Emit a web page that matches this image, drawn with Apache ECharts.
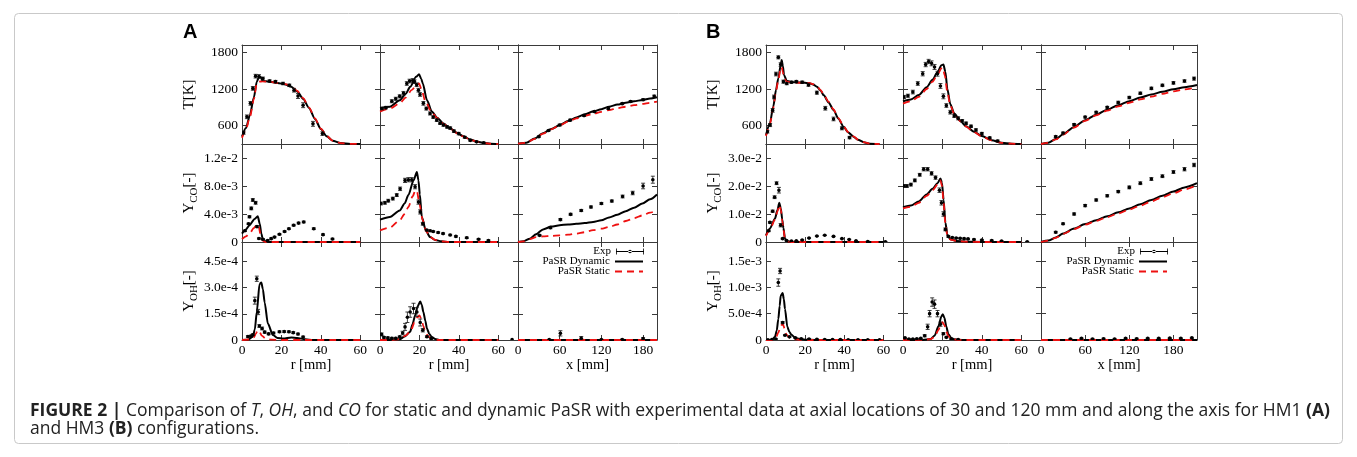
<!DOCTYPE html>
<html><head><meta charset="utf-8">
<script src="https://cdn.jsdelivr.net/npm/echarts@6/dist/echarts.min.js"></script>
<style>html,body{margin:0;padding:0;background:#fff}#c{width:1357px;height:457px}</style>
</head><body><div id="c"></div>
<script>
// ---------------- DATA ----------------
// x in mm, value ; exp points: [x, value, error]
// Panel A (HM1) — Temperature [K]
const A_T_r30_dyn = [[0,420],[2,560],[4,770],[6,1060],[7.5,1320],[8.5,1385],[9.5,1395],[10.5,1330],[14,1320],[18,1300],[22,1275],[25,1235],[28,1160],[31,1040],[34,890],[37,710],[40,545],[43,425],[46,355],[50,315],[55,302],[60,300]];
const A_T_r30_sta = [[0,400],[2,540],[4,740],[6,1030],[7.5,1290],[8.5,1320],[10.5,1325],[14,1318],[18,1300],[22,1280],[25,1245],[28,1170],[31,1050],[34,900],[37,720],[40,550],[43,430],[46,355],[50,315],[55,302],[60,300]];
const A_T_r30_exp = [[0.8,485,25],[2.5,745,30],[4.3,965,30],[5.5,1210,30],[6.9,1410,30],[8.6,1405,30],[10.6,1370,25],[14,1330,20],[17,1320,20],[20.8,1290,20],[24,1260,20],[26.4,1180,30],[28.4,1085,40],[31,935,40],[36,630,40],[40.8,470,30]];
const A_T_r120_dyn = [[0,890],[5,910],[10,1015],[13,1120],[15.3,1235],[18.3,1400],[19.8,1440],[21,1360],[21.7,1290],[23.8,1020],[26.3,830],[29,730],[32,640],[35.5,560],[39,485],[42,430],[45.8,375],[49,340],[52.6,318],[56,305],[60,300]];
const A_T_r120_sta = [[0,830],[5,880],[10,965],[13,1060],[16,1180],[18.5,1260],[19.8,1290],[21,1200],[23,1000],[26,830],[29,725],[32,635],[35.5,555],[39,480],[42,425],[45.8,372],[49,338],[52.6,316],[56,304],[60,300]];
const A_T_r120_exp = [[1,880,20],[3,895,20],[6,1000,25],[8,1040,25],[10,1080,25],[11.9,1130,30],[13.6,1290,30],[15,1330,30],[16.6,1340,30],[17.5,1320,30],[18.6,1270,30],[19.5,1180,30],[20.3,1110,30],[22,965,30],[23.5,880,25],[25.4,800,25],[27,740,20],[28.8,690,20],[30.5,640,20],[32.2,610,20],[34,580,20],[35.6,560,20],[37.5,510,20],[39.9,470,20],[43,410,15],[45.8,360,15],[49,335,10],[52.6,320,10]];
const A_T_axis_dyn = [[0,305],[12,320],[24,390],[36,475],[48,545],[60,610],[72,675],[84,735],[96,785],[108,830],[120,870],[131,910],[143,945],[155,975],[167,1000],[179,1020],[190,1045],[200,1065]];
const A_T_axis_sta = [[0,305],[12,320],[24,385],[36,470],[48,540],[60,605],[72,665],[84,720],[96,760],[108,795],[120,825],[131,855],[143,885],[155,910],[167,935],[179,955],[190,975],[200,995]];
const A_T_axis_exp = [[30,420,10],[44,520,10],[60,610,15],[75,690,15],[95,765,15],[110,830,15],[130,880,15],[150,960,15],[162,995,15],[180,1025,15],[196,1080,20]];
// Panel A — Y_CO
const A_CO_r30_dyn = [[0,1.2e-3],[2,1.8e-3],[3.8,2.4e-3],[6.4,3.3e-3],[8,3.67e-3],[9,2.6e-3],[9.8,1.2e-3],[10.6,3.4e-4],[12,8e-5],[14,0],[20,0],[30,0],[40,0],[50,0],[60,0]];
const A_CO_r30_sta = [[0,4e-4],[2,8e-4],[4,1.3e-3],[6,2e-3],[7.5,2.5e-3],[8.5,2.2e-3],[9.5,9e-4],[10.5,2e-4],[12,0],[20,0],[30,0],[40,0],[50,0],[60,0]];
const A_CO_r30_exp = [[1.5,1.6e-3,1e-4],[3.3,2.6e-3,1e-4],[3.8,3.6e-3,1.5e-4],[4.7,4.8e-3,2e-4],[5.5,6.0e-3,2e-4],[6.9,5.6e-3,2e-4],[7.6,2.2e-3,1.5e-4],[8.6,5e-4,1e-4],[10.6,4e-4,1e-4],[13,2e-4,1e-4],[14.8,4.8e-4,1e-4],[16.5,7e-4,1e-4],[19,1.1e-3,1e-4],[21.6,1.5e-3,1e-4],[23.8,1.9e-3,1e-4],[26.2,2.4e-3,1.2e-4],[28.7,2.7e-3,1.2e-4],[31.3,2.86e-3,1.2e-4],[36.4,1.9e-3,1.2e-4],[41.1,1.05e-3,1e-4],[45.9,4.3e-4,1e-4]];
const A_CO_r120_dyn = [[0,3.2e-3],[5,3.57e-3],[10,4.5e-3],[12.5,5.5e-3],[14.4,6.7e-3],[17,8.8e-3],[18.7,1.0e-2],[19.5,8.8e-3],[20.2,6.8e-3],[21.2,3.6e-3],[23.2,1.67e-3],[25.4,7e-4],[28,3e-4],[31,1e-4],[35,0],[45,0],[60,0]];
const A_CO_r120_sta = [[0,1.67e-3],[5,2.05e-3],[10,3.1e-3],[12.5,4e-3],[14.4,5e-3],[16.5,6.5e-3],[18,7.4e-3],[18.8,7.2e-3],[20,5.4e-3],[21.7,3.1e-3],[23.5,1.5e-3],[25.5,7e-4],[28,3e-4],[31,1e-4],[35,0],[45,0],[60,0]];
const A_CO_r120_exp = [[0.5,5.5e-3,2e-4],[2.5,5.6e-3,2e-4],[4.2,5.9e-3,2e-4],[6.5,6.2e-3,2e-4],[8.5,6.7e-3,2e-4],[10.2,7.6e-3,2.5e-4],[12.7,8.8e-3,3e-4],[14.4,8.9e-3,3e-4],[16.1,8.9e-3,3e-4],[17.8,7.9e-3,3e-4],[19.5,5.7e-3,3e-4],[20.4,4.3e-3,3e-4],[21.7,2.6e-3,2e-4],[23.7,1.7e-3,1e-4],[25.4,1.6e-3,1e-4],[27,1.5e-3,1e-4],[29.5,1.35e-3,1e-4],[32,1.2e-3,1e-4],[35.6,1e-3,1e-4],[38.5,8e-4,1e-4],[44,6e-4,1e-4],[50,4e-4,1e-4],[55,2e-4,1e-4]];
const A_CO_axis_dyn = [[0,0],[8,1e-4],[17,4.8e-4],[26,1.1e-3],[36,1.8e-3],[48,2.2e-3],[60,2.4e-3],[72,2.5e-3],[84,2.6e-3],[96,2.7e-3],[108,2.86e-3],[120,3.1e-3],[131,3.5e-3],[143,3.9e-3],[155,4.4e-3],[167,4.9e-3],[179,5.5e-3],[190,6.1e-3],[200,6.8e-3]];
const A_CO_axis_sta = [[0,0],[8,1e-4],[17,4e-4],[26,7e-4],[36,8e-4],[48,8.8e-4],[60,9.5e-4],[72,1.05e-3],[84,1.2e-3],[96,1.4e-3],[108,1.7e-3],[120,1.9e-3],[131,2.15e-3],[143,2.5e-3],[155,3e-3],[167,3.4e-3],[179,3.8e-3],[190,4.2e-3],[200,4.5e-3]];
const A_CO_axis_exp = [[31,9.5e-4,1e-4],[46.7,2.05e-3,1.5e-4],[61,3.2e-3,1.5e-4],[75.7,3.95e-3,1.5e-4],[91,4.5e-3,1.5e-4],[105,5e-3,1.5e-4],[120,5.5e-3,1.5e-4],[135,5.85e-3,1.5e-4],[150.5,6.5e-3,2e-4],[165,7e-3,2.5e-4],[180,8e-3,4e-4],[194,8.9e-3,5e-4]];
// Panel A — Y_OH
const A_OH_r30_dyn = [[0,0],[3,2e-6],[5.5,1.9e-5],[6.5,6e-5],[7.5,1.6e-4],[8.9,3.2e-4],[9.8,3.28e-4],[10.6,2.9e-4],[11.5,2.15e-4],[13.1,9.4e-5],[15.7,2.8e-5],[18,1.2e-5],[21,8e-6],[25,1.5e-5],[28,1.2e-5],[32,4e-6],[36,0],[45,0],[60,0]];
const A_OH_r30_sta = [[0,0],[4,3e-6],[6,1.5e-5],[7,3.5e-5],[8,5.6e-5],[9,4.5e-5],[10,2.5e-5],[12,8e-6],[15,2e-6],[20,0],[30,0],[45,0],[60,0]];
const A_OH_r30_exp = [[3,2e-5,5e-6],[4.5,2.2e-5,5e-6],[5.5,3e-5,5e-6],[6.5,2.25e-4,2e-5],[7.5,3.5e-4,1.5e-5],[8.2,1.6e-4,1.5e-5],[8.8,8e-5,8e-6],[10.2,6.6e-5,8e-6],[11.5,4.5e-5,6e-6],[13.5,3.5e-5,5e-6],[16,4e-5,5e-6],[19,4.7e-5,5e-6],[21.4,4.8e-5,5e-6],[23.8,4.7e-5,5e-6],[26,4.2e-5,5e-6],[28.4,3.4e-5,5e-6],[31,1.7e-5,5e-6]];
const A_OH_r120_dyn = [[0,0],[5,0],[10,5e-6],[12.5,2e-5],[15.3,4.7e-5],[16.5,9e-5],[17.8,1.4e-4],[19,1.9e-4],[20.4,2.2e-4],[21.2,2e-4],[22,1.6e-4],[23,1.1e-4],[23.8,6.6e-5],[25,3.5e-5],[26.3,1.7e-5],[28,6e-6],[30,0],[45,0],[60,0]];
const A_OH_r120_sta = [[0,0],[5,0],[10,5e-6],[13,2.5e-5],[15.5,5e-5],[17.5,1e-4],[19,1.3e-4],[20,1.4e-4],[21,1.2e-4],[22,8e-5],[23,4.6e-5],[24.5,2e-5],[26,8e-6],[28,2e-6],[30,0],[45,0],[60,0]];
const A_OH_r120_exp = [[0.8,3.2e-5,8e-6],[2,1.5e-5,5e-6],[4,1.2e-5,5e-6],[6,1e-5,5e-6],[8,1e-5,5e-6],[10,1.8e-5,5e-6],[11.5,4e-5,1e-5],[12.7,7.5e-5,2e-5],[13.9,1.3e-4,3e-5],[15.3,1.6e-4,3e-5],[17,1.8e-4,3e-5],[18.7,1.6e-4,2.5e-5],[20.4,1e-4,2e-5],[21.7,5.6e-5,1e-5],[23.8,1.9e-5,5e-6],[26,8e-6,4e-6],[67,3e-6,0]];
const A_OH_axis_dyn = [[0,0],[50,0],[100,0],[150,0],[200,0]];
const A_OH_axis_sta = [[0,0],[50,0],[100,0],[150,0],[200,0]];
const A_OH_axis_exp = [[45,2e-6,2e-6],[61,3.8e-5,1.5e-5],[91,1e-5,1e-5],[120,2e-6,2e-6],[150,3e-6,2e-6],[180,8e-6,5e-6]];

// Panel B (HM3) — Temperature [K]
const B_T_r30_dyn = [[0,447],[2,640],[3.7,910],[5.1,1183],[6.3,1374],[7.5,1592],[8,1673],[8.6,1580],[9.2,1428],[10.6,1335],[13,1315],[15.5,1310],[19,1305],[22.3,1295],[24,1275],[26,1237],[28,1170],[29.4,1100],[32,980],[34.5,856],[37,715],[39.6,583],[42,490],[44.7,420],[47,370],[49.9,330],[53,305],[58,300]];
const B_T_r30_sta = [[0,430],[2,620],[3.7,890],[5.1,1160],[6.3,1350],[7.5,1540],[8,1560],[8.6,1480],[9.2,1380],[10.6,1320],[13,1310],[15.5,1305],[19,1300],[22.3,1295],[24,1280],[26,1245],[28,1180],[29.4,1110],[32,990],[34.5,865],[37,725],[39.6,590],[42,495],[44.7,425],[47,372],[49.9,330],[53,305],[58,300]];
const B_T_r30_exp = [[0.7,500,20],[2.1,610,25],[3.4,850,30],[4.1,1070,30],[5.1,1445,30],[6.3,1718,25],[7.5,1600,30],[8.9,1320,25],[10.6,1290,20],[13,1310,20],[15.5,1320,20],[18.5,1310,20],[21.7,1265,20],[26,1140,25],[30.3,885,30],[34.5,710,30],[38.8,557,25],[42.7,405,20]];
const B_T_r120_dyn = [[0,1000],[4,1030],[8,1100],[12,1230],[15,1350],[17.5,1480],[19.5,1590],[20.5,1600],[21.5,1480],[22.5,1200],[24,950],[26,800],[29,680],[32,590],[36,500],[40,430],[45,360],[50,320],[55,305],[60,300]];
const B_T_r120_sta = [[0,960],[4,1000],[8,1070],[12,1200],[15,1320],[17.5,1440],[19.5,1540],[20.2,1550],[21.2,1420],[22.5,1150],[24,930],[26,790],[29,675],[32,585],[36,495],[40,425],[45,358],[50,320],[55,305],[60,300]];
const B_T_r120_exp = [[0.5,1070,25],[2.5,1090,25],[5,1150,30],[7.5,1290,30],[10,1450,35],[11.5,1600,35],[13,1650,35],[14.5,1620,40],[16,1560,40],[17.5,1450,40],[19,1250,40],[20.5,1080,40],[22,930,30],[24,820,30],[26,760,25],[28,720,25],[30,680,20],[32,640,20],[34.5,590,20],[37,530,20],[40,470,20],[44,400,15],[48,350,15]];
const B_T_axis_dyn = [[0,300],[10,320],[20,380],[30,460],[45,580],[60,690],[75,780],[90,860],[105,935],[120,1000],[135,1060],[150,1110],[165,1155],[180,1195],[195,1230],[212,1265]];
const B_T_axis_sta = [[0,300],[10,320],[20,375],[30,455],[45,570],[60,680],[75,770],[90,845],[105,915],[120,975],[135,1030],[150,1075],[165,1120],[180,1160],[195,1195],[212,1225]];
const B_T_axis_exp = [[20,420,15],[30,480,15],[45,620,15],[60,740,15],[75,820,15],[90,900,15],[105,980,20],[120,1060,20],[135,1130,20],[150,1210,20],[165,1260,20],[180,1300,20],[195,1330,20],[208,1370,25]];
// Panel B — Y_CO
const B_CO_r30_dyn = [[0,2.4e-3],[2,4.8e-3],[4.6,8.4e-3],[5.8,1.13e-2],[6.8,1.4e-2],[7.6,1.2e-2],[8.3,8e-3],[8.9,5e-3],[9.7,1.2e-3],[11,2e-4],[13,0],[20,0],[30,0],[40,0],[50,0],[60,0]];
const B_CO_r30_sta = [[0,2.2e-3],[2,4.5e-3],[4.6,8e-3],[5.8,1.08e-2],[6.8,1.32e-2],[7.6,1.15e-2],[8.3,7.5e-3],[8.9,4.5e-3],[9.7,1e-3],[11,2e-4],[13,0],[20,0],[30,0],[40,0],[50,0],[60,0]];
const B_CO_r30_exp = [[1.4,4e-3,3e-4],[2,7e-3,3e-4],[3.4,1.1e-2,4e-4],[4.4,1.6e-2,5e-4],[5.4,2.1e-2,5e-4],[6.6,1.85e-2,1e-3],[7.5,6e-3,6e-4],[8.5,1.2e-3,2e-4],[10.5,5e-4,1e-4],[13,3e-4,1e-4],[15.5,4e-4,1e-4],[18.5,7e-4,1e-4],[22,1.4e-3,1e-4],[26,2.1e-3,1e-4],[30,2.4e-3,1e-4],[34.5,2e-3,1e-4],[38.8,1.2e-3,1e-4],[42.5,9e-4,1e-4],[46,4e-4,1e-4],[52,2e-4,1e-4],[61,1e-4,1e-4]];
const B_CO_r120_dyn = [[0,1.24e-2],[4,1.3e-2],[8,1.45e-2],[12,1.7e-2],[15,1.9e-2],[17.5,2.1e-2],[19,2.27e-2],[19.8,2.1e-2],[20.6,1.5e-2],[21.5,7e-3],[22.5,2.5e-3],[24,1e-3],[27,4e-4],[32,1e-4],[40,0],[50,0],[60,0]];
const B_CO_r120_sta = [[0,1.2e-2],[4,1.26e-2],[8,1.4e-2],[12,1.65e-2],[15,1.85e-2],[17.5,2.05e-2],[19,2.2e-2],[19.8,2e-2],[20.6,1.4e-2],[21.5,6.5e-3],[22.5,2.3e-3],[24,9e-4],[27,4e-4],[32,1e-4],[40,0],[50,0],[60,0]];
const B_CO_r120_exp = [[0.5,2e-2,5e-4],[2,2e-2,5e-4],[4,2.05e-2,5e-4],[6,2.2e-2,5e-4],[8.5,2.4e-2,5e-4],[10.5,2.6e-2,6e-4],[12.5,2.6e-2,6e-4],[14.5,2.45e-2,6e-4],[16.5,2.3e-2,6e-4],[18.5,1.85e-2,8e-4],[19.5,1.4e-2,8e-4],[20.5,1e-2,8e-4],[21.5,4.5e-3,5e-4],[23,2e-3,3e-4],[25,1.6e-3,2e-4],[27,1.4e-3,2e-4],[29,1.3e-3,2e-4],[31,1.2e-3,2e-4],[33,1.1e-3,2e-4],[36,9e-4,2e-4],[40,7e-4,2e-4],[45,5e-4,2e-4],[50,3e-4,2e-4],[63,1e-4,1e-4]];
const B_CO_axis_dyn = [[0,0],[10,5e-4],[20,1.6e-3],[30,3e-3],[45,4.8e-3],[60,6.4e-3],[75,7.8e-3],[90,9.2e-3],[105,1.06e-2],[120,1.2e-2],[135,1.35e-2],[150,1.5e-2],[165,1.65e-2],[180,1.8e-2],[195,1.95e-2],[212,2.1e-2]];
const B_CO_axis_sta = [[0,0],[10,5e-4],[20,1.5e-3],[30,2.9e-3],[45,4.6e-3],[60,6.2e-3],[75,7.5e-3],[90,8.9e-3],[105,1.02e-2],[120,1.16e-2],[135,1.3e-2],[150,1.45e-2],[165,1.6e-2],[180,1.74e-2],[195,1.88e-2],[212,2.03e-2]];
const B_CO_axis_exp = [[20,3.5e-3,3e-4],[30,6.5e-3,3e-4],[45,1.0e-2,4e-4],[60,1.3e-2,4e-4],[75,1.5e-2,4e-4],[90,1.65e-2,4e-4],[105,1.8e-2,4e-4],[120,1.95e-2,5e-4],[135,2.1e-2,5e-4],[150,2.25e-2,5e-4],[165,2.35e-2,5e-4],[180,2.5e-2,5e-4],[195,2.6e-2,6e-4],[208,2.75e-2,6e-4]];
// Panel B — Y_OH
const B_OH_r30_dyn = [[0,0],[3,2e-6],[4.6,6e-5],[5.5,1.8e-4],[6.3,4e-4],[7,6.5e-4],[7.5,8.4e-4],[8.5,8.9e-4],[9.1,7.8e-4],[9.7,5.9e-4],[10.9,2.5e-4],[12,1.5e-4],[13,1e-4],[15,4e-5],[17,2e-5],[20,5e-6],[25,0],[40,0],[60,0]];
const B_OH_r30_sta = [[0,0],[3,2e-6],[5,4e-5],[6.3,1.4e-4],[7.5,2.6e-4],[8.5,3.1e-4],[9.5,2.2e-4],[10.5,1e-4],[12,4e-5],[14,1.5e-5],[17,5e-6],[22,0],[40,0],[60,0]];
const B_OH_r30_exp = [[1,5e-6,3e-6],[3,1e-5,3e-6],[5,2e-5,5e-6],[6.3,1.09e-3,7e-5],[7.2,1.31e-3,5e-5],[8.5,3.3e-4,2e-5],[9.7,9e-5,1e-5],[12,6e-5,1e-5],[15,4e-5,1e-5],[18,2.5e-5,8e-6],[22,2e-5,8e-6],[26,1.5e-5,5e-6],[30,1e-5,5e-6],[34,8e-6,5e-6],[38,8e-6,5e-6],[42,5e-6,5e-6],[47,5e-6,5e-6],[52,3e-6,3e-6],[58,3e-6,3e-6]];
const B_OH_r120_dyn = [[0,0],[10,2e-6],[14,2e-5],[16,8e-5],[18,2.6e-4],[19.5,4.5e-4],[20.2,4.9e-4],[21,4.2e-4],[22,2.5e-4],[23,1.1e-4],[24.5,4e-5],[26,1.5e-5],[28,4e-6],[32,0],[45,0],[60,0]];
const B_OH_r120_sta = [[0,0],[10,2e-6],[14,1.5e-5],[16,6e-5],[18,1.9e-4],[19.3,3.2e-4],[20,3.4e-4],[21,2.8e-4],[22,1.6e-4],[23,7e-5],[24.5,2.5e-5],[26,1e-5],[28,3e-6],[32,0],[45,0],[60,0]];
const B_OH_r120_exp = [[1,4e-5,1e-5],[3,2e-5,5e-6],[5,2e-5,5e-6],[7,2.5e-5,5e-6],[9,3e-5,8e-6],[11,8e-5,2e-5],[12.5,2.5e-4,5e-5],[13.5,5e-4,6e-5],[14.8,7.2e-4,8e-5],[16,6.8e-4,8e-5],[17.5,5e-4,6e-5],[19,3e-4,4e-5],[20.5,1.2e-4,2e-5],[22,5e-5,1e-5],[24.5,2e-5,5e-6],[28,1e-5,5e-6]];
const B_OH_axis_dyn = [[0,0],[50,0],[100,0],[150,0],[212,0]];
const B_OH_axis_sta = [[0,0],[50,0],[100,0],[150,0],[212,0]];
const B_OH_axis_exp = [[40,2e-5,1e-5],[55,3e-5,1e-5],[70,2e-5,1e-5],[85,2.5e-5,1e-5],[100,2e-5,1e-5],[115,3e-5,1e-5],[130,2.5e-5,1e-5],[145,3e-5,1e-5],[160,3e-5,1e-5],[175,3.5e-5,1e-5],[190,3e-5,1e-5],[205,4e-5,1e-5]];

// Tick values and labels
const T_ticks = [600, 1200, 1800];
const T_labels = ['600', '1200', '1800'];
const A_CO_ticks = [0, 0.004, 0.008, 0.012];
const A_CO_labels = ['0', '4.0e-3', '8.0e-3', '1.2e-2'];
const A_OH_ticks = [0, 1.5e-4, 3.0e-4, 4.5e-4];
const A_OH_labels = ['0', '1.5e-4', '3.0e-4', '4.5e-4'];
const B_CO_ticks = [0, 0.01, 0.02, 0.03];
const B_CO_labels = ['0', '1.0e-2', '2.0e-2', '3.0e-2'];
const B_OH_ticks = [0, 5e-4, 1e-3, 1.5e-3];
const B_OH_labels = ['0', '5.0e-4', '1.0e-3', '1.5e-3'];
const R_ticks = [0, 20, 40, 60];
const X_ticks = [0, 60, 120, 180];
const seriesNames = ['PaSR Dynamic', 'PaSR Static', 'Exp'];

// ---------------- LAYOUT ----------------
const LAYOUT = {
  A: { cols: [[242, 138], [380, 138], [518, 139]] },
  B: { cols: [[766, 137], [903, 138], [1041, 156]] },
  rows: [[45, 99], [144, 98], [242, 98]]
};
const RANGES = {
  A: { x: [70, 70, 200], y: [[300, 1920], [0, 0.014], [0, 5.6e-4]] },
  B: { x: [70, 70, 212], y: [[300, 1920], [0, 0.035], [0, 1.86e-3]] }
};
const YT = {
  A: [[T_ticks, T_labels], [A_CO_ticks, A_CO_labels], [A_OH_ticks, A_OH_labels]],
  B: [[T_ticks, T_labels], [B_CO_ticks, B_CO_labels], [B_OH_ticks, B_OH_labels]]
};
const XT = [[R_ticks, R_ticks.map(String)], [R_ticks, R_ticks.map(String)], [X_ticks, X_ticks.map(String)]];
const XNAMES = ['r [mm]', 'r [mm]', 'x [mm]'];
const YNAMES = ['{m|T[K]}', '{m|Y}{s|CO}{m|[-]}', '{m|Y}{s|OH}{m|[-]}'];

const DATA = {
  A: [
    [[A_T_r30_dyn, A_T_r30_sta, A_T_r30_exp], [A_T_r120_dyn, A_T_r120_sta, A_T_r120_exp], [A_T_axis_dyn, A_T_axis_sta, A_T_axis_exp]],
    [[A_CO_r30_dyn, A_CO_r30_sta, A_CO_r30_exp], [A_CO_r120_dyn, A_CO_r120_sta, A_CO_r120_exp], [A_CO_axis_dyn, A_CO_axis_sta, A_CO_axis_exp]],
    [[A_OH_r30_dyn, A_OH_r30_sta, A_OH_r30_exp], [A_OH_r120_dyn, A_OH_r120_sta, A_OH_r120_exp], [A_OH_axis_dyn, A_OH_axis_sta, A_OH_axis_exp]]
  ],
  B: [
    [[B_T_r30_dyn, B_T_r30_sta, B_T_r30_exp], [B_T_r120_dyn, B_T_r120_sta, B_T_r120_exp], [B_T_axis_dyn, B_T_axis_sta, B_T_axis_exp]],
    [[B_CO_r30_dyn, B_CO_r30_sta, B_CO_r30_exp], [B_CO_r120_dyn, B_CO_r120_sta, B_CO_r120_exp], [B_CO_axis_dyn, B_CO_axis_sta, B_CO_axis_exp]],
    [[B_OH_r30_dyn, B_OH_r30_sta, B_OH_r30_exp], [B_OH_r120_dyn, B_OH_r120_sta, B_OH_r120_exp], [B_OH_axis_dyn, B_OH_axis_sta, B_OH_axis_exp]]
  ]
};

// ---------------- BUILD ----------------
const SERIF = 'Liberation Serif';
const AX = '#3a3a3a';
function fmtFrom(ticks, labels) {
  return function (v) {
    for (let i = 0; i < ticks.length; i++) if (Math.abs(v - ticks[i]) <= Math.abs(ticks[ticks.length - 1]) * 1e-6 + 1e-12) return labels[i];
    return '';
  };
}
function renderExp(params, api) {
  const x = api.value(0), y = api.value(1), e = api.value(2);
  const p = api.coord([x, y]);
  const ch = [];
  if (e > 0) {
    const lo = api.coord([x, y - e]), hi = api.coord([x, y + e]);
    const st = { stroke: '#111', lineWidth: 0.8 };
    ch.push({ type: 'line', shape: { x1: p[0], y1: lo[1], x2: p[0], y2: hi[1] }, style: st });
    ch.push({ type: 'line', shape: { x1: p[0] - 2, y1: lo[1], x2: p[0] + 2, y2: lo[1] }, style: st });
    ch.push({ type: 'line', shape: { x1: p[0] - 2, y1: hi[1], x2: p[0] + 2, y2: hi[1] }, style: st });
  }
  ch.push({ type: 'circle', shape: { cx: p[0], cy: p[1], r: 1.8 }, style: { fill: '#000' } });
  return { type: 'group', children: ch };
}

const grid = [], xAxis = [], yAxis = [], series = [];
['A', 'B'].forEach(P => {
  for (let r = 0; r < 3; r++) {
    for (let c = 0; c < 3; c++) {
      const gi = grid.length;
      const [left, width] = LAYOUT[P].cols[c];
      const [top, height] = LAYOUT.rows[r];
      grid.push({ left, top, width, height, containLabel: false });
      const [xt, xl] = XT[c];
      const [yt, yl] = YT[P][r];
      const xmax = RANGES[P].x[c];
      const [ymin, ymax] = RANGES[P].y[r];
      const bottomRow = r === 2, leftCol = c === 0;
      const axLine = { show: true, onZero: false, lineStyle: { color: AX, width: 1 } };
      const xBase = {
        type: 'value', gridIndex: gi, min: 0, max: xmax, splitLine: { show: false },
        axisLine: axLine, axisTick: { show: true, inside: true, length: 5, customValues: xt, lineStyle: { color: AX } }
      };
      xAxis.push(Object.assign({}, xBase, {
        position: 'bottom',
        axisLabel: { show: bottomRow, customValues: xt, formatter: fmtFrom(xt, xl), fontFamily: SERIF, fontSize: 13.5, color: '#000', margin: 3 },
        name: bottomRow ? XNAMES[c] : '', nameLocation: 'middle', nameGap: 17,
        nameTextStyle: { fontFamily: SERIF, fontSize: 14.5, color: '#000' }
      }));
      xAxis.push(Object.assign({}, xBase, { position: 'top', axisLabel: { show: false } }));
      const yBase = {
        type: 'value', gridIndex: gi, min: ymin, max: ymax, splitLine: { show: false },
        axisLine: axLine, axisTick: { show: true, inside: true, length: 5, customValues: yt, lineStyle: { color: AX } }
      };
      yAxis.push(Object.assign({}, yBase, {
        position: 'left',
        axisLabel: { show: leftCol, customValues: yt, formatter: fmtFrom(yt, yl), fontFamily: SERIF, fontSize: 13.5, color: '#000', margin: 4 },
        name: leftCol ? YNAMES[r] : '', nameLocation: 'middle', nameRotate: 90, nameGap: 42,
        nameTextStyle: {
          fontFamily: SERIF, color: '#000',
          rich: {
            m: { fontFamily: SERIF, fontSize: 15, color: '#000', lineHeight: 22 },
            s: { fontFamily: SERIF, fontSize: 11, color: '#000', lineHeight: 11, verticalAlign: 'bottom' }
          }
        }
      }));
      yAxis.push(Object.assign({}, yBase, { position: 'right', axisLabel: { show: false } }));
      const xi = 2 * gi, yi = 2 * gi;
      const d = DATA[P][r][c];
      series.push({
        name: seriesNames[0], type: 'line', xAxisIndex: xi, yAxisIndex: yi, data: d[0],
        symbol: 'none', showSymbol: false, smooth: 0.25, smoothMonotone: 'x', clip: true,
        lineStyle: { color: '#000', width: 2 }, itemStyle: { color: '#000' }, z: 3
      });
      series.push({
        name: seriesNames[1], type: 'line', xAxisIndex: xi, yAxisIndex: yi, data: d[1],
        symbol: 'none', showSymbol: false, smooth: 0.25, smoothMonotone: 'x', clip: true,
        lineStyle: { color: '#ee1111', width: 1.8, type: [7, 5] }, itemStyle: { color: '#ee1111' }, z: 4
      });
      series.push({
        name: seriesNames[2], type: 'custom', xAxisIndex: xi, yAxisIndex: yi, data: d[2],
        renderItem: renderExp, encode: { x: 0, y: 1 }, clip: true, itemStyle: { color: '#000' }, z: 5
      });
    }
  }
});

const EXP_ICON = 'path://M0,1H0.8V7H0Z M27.2,1H28V7H27.2Z M0,3.6H28V4.4H0Z M12.2,4A1.8,1.8 0 1,0 15.8,4A1.8,1.8 0 1,0 12.2,4Z';
function mkLegend(item, right, top, hideSymbol) {
  const l = {
    data: [item], right, top, orient: 'horizontal', align: 'right', itemWidth: 28, itemHeight: 8,
    itemGap: 0, padding: 0, selectedMode: false,
    textStyle: { fontFamily: SERIF, fontSize: 11, color: '#000' }
  };
  if (hideSymbol) l.itemStyle = { opacity: 0 };
  return l;
}
const legend = [];
[713, 189].forEach(right => {
  legend.push(mkLegend({ name: 'Exp', icon: EXP_ICON }, right, 246, false));
  legend.push(mkLegend('PaSR Dynamic', right, 256, true));
  legend.push(mkLegend('PaSR Static', right, 266, true));
});

const CAP = "'Open Sans', 'Noto Sans', sans-serif";
const CAPSIZE = 17.5;
const graphic = [
  { type: 'rect', shape: { x: 14.5, y: 13.5, width: 1328, height: 430, r: 4 }, style: { fill: 'none', stroke: '#c9c9c9', lineWidth: 1 }, silent: true },
  { type: 'text', left: 183, top: 22, style: { text: 'A', font: "bold 20px 'Liberation Sans', Arial, sans-serif", fill: '#000' } },
  { type: 'text', left: 706, top: 22, style: { text: 'B', font: "bold 20px 'Liberation Sans', Arial, sans-serif", fill: '#000' } },
  {
    type: 'text', left: 30, top: 402, style: {
      text: '{b|FIGURE 2 |} Comparison of {i|T}, {i|OH}, and {i|CO} for static and dynamic PaSR with experimental data at axial locations of 30 and 120 mm and along the axis for HM1 {b|(A)}',
      fontFamily: CAP, fontSize: CAPSIZE, fill: '#222',
      rich: { b: { fontFamily: CAP, fontSize: CAPSIZE, fontWeight: 'bold', fill: '#222' }, i: { fontFamily: CAP, fontSize: CAPSIZE, fontStyle: 'italic', fill: '#222' } }
    }
  },
  {
    type: 'text', left: 30, top: 420, style: {
      text: 'and HM3 {b|(B)} configurations.',
      fontFamily: CAP, fontSize: CAPSIZE, fill: '#222',
      rich: { b: { fontFamily: CAP, fontSize: CAPSIZE, fontWeight: 'bold', fill: '#222' } }
    }
  }
];

const chart = echarts.init(document.getElementById('c'), null, { renderer: 'canvas' });
chart.setOption({ animation: false, backgroundColor: '#fff', grid, xAxis, yAxis, series, legend, graphic });
</script>
</body></html>
